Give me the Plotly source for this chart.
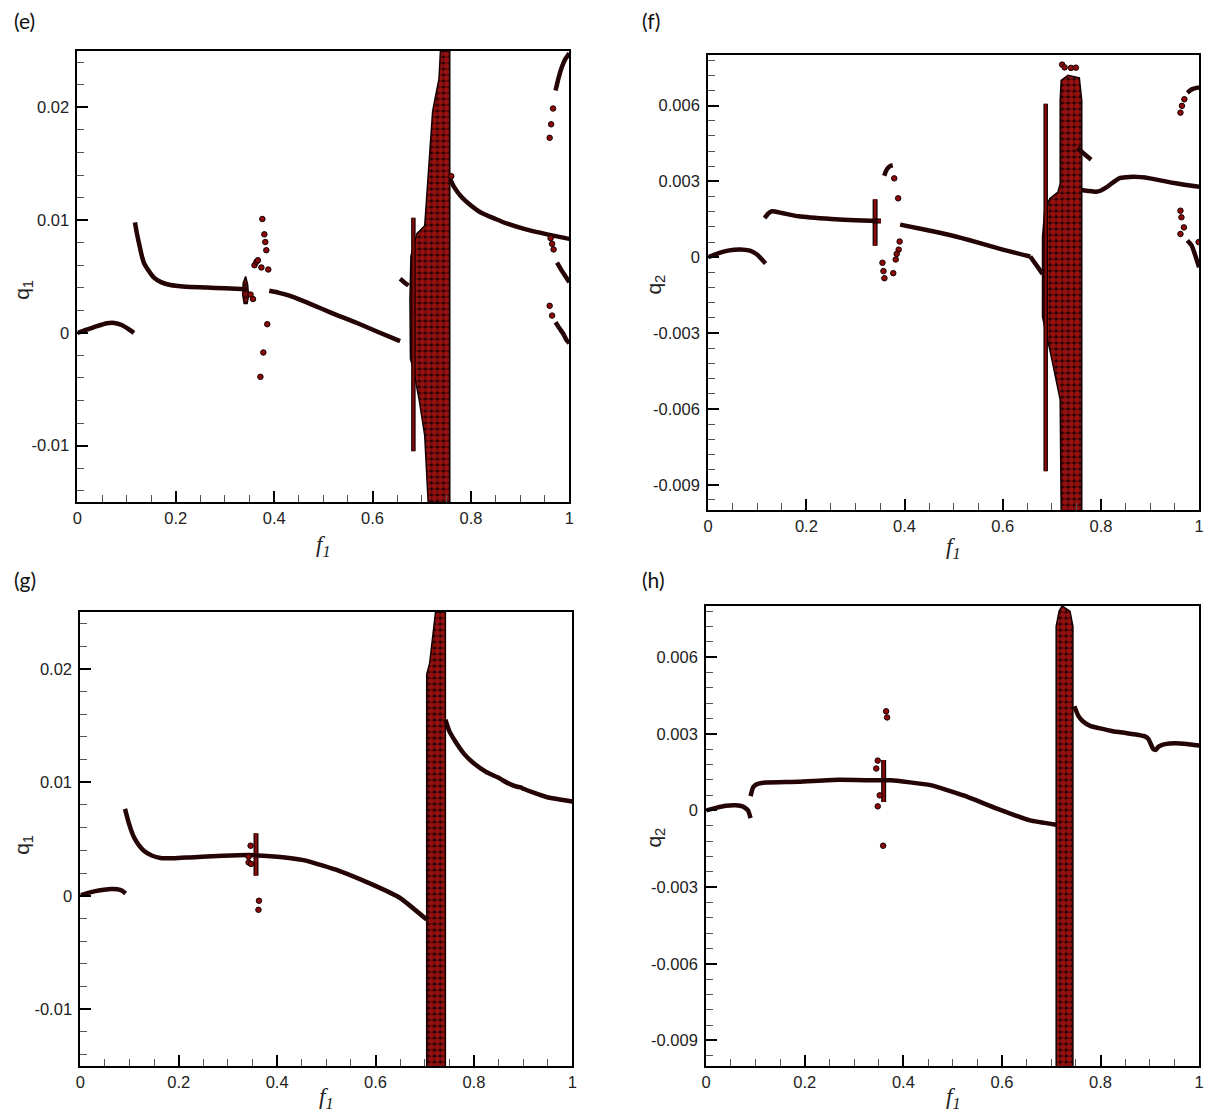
import plotly.graph_objects as go

# ---------------- tick labels ----------------
X_TICKS = [0, 0.2, 0.4, 0.6, 0.8, 1.0]
X_TICK_TEXT = ["0", "0.2", "0.4", "0.6", "0.8", "1"]
Q1_TICKS = [-0.01, 0.0, 0.01, 0.02]
Q1_TICK_TEXT = ["-0.01", "0", "0.01", "0.02"]
Q2_TICKS = [-0.009, -0.006, -0.003, 0.0, 0.003, 0.006]
Q2_TICK_TEXT = ["-0.009", "-0.006", "-0.003", "0", "0.003", "0.006"]

# ---------------- panel (e): q1 ----------------
E_A_X = [0, 0.02, 0.04, 0.06, 0.075, 0.09, 0.105, 0.115]
E_A_Y = [0, 0.0003, 0.0006, 0.00085, 0.00088, 0.0007, 0.0003, 0.0]
E_B_X = [0.117, 0.121, 0.125, 0.13, 0.135, 0.145, 0.155, 0.17, 0.189, 0.22, 0.263, 0.30, 0.345]
E_B_Y = [0.0098, 0.0088, 0.0080, 0.0070, 0.00624, 0.0055, 0.00492, 0.0045, 0.00424, 0.0041, 0.00403, 0.00395, 0.00388]
E_C_X = [0.39, 0.41, 0.431, 0.465, 0.498, 0.53, 0.565, 0.61, 0.656]
E_C_Y = [0.00373, 0.00355, 0.0033, 0.00272, 0.00212, 0.00153, 0.00094, 0.0001, -0.00073]
E_D_X = [0.656, 0.664, 0.673]
E_D_Y = [0.0048, 0.0045, 0.0042]
E_E_X = [0.757, 0.765, 0.78, 0.80, 0.821, 0.85, 0.874, 0.91, 0.955, 0.995, 1.0]
E_E_Y = [0.0137, 0.0130, 0.0121, 0.0113, 0.01065, 0.0101, 0.00968, 0.0092, 0.00874, 0.00838, 0.00835]
E_F_X = [0.972, 0.978, 0.985, 0.992, 1.0]
E_F_Y = [0.0215, 0.0226, 0.0236, 0.0243, 0.0248]
E_G_X = [0.975, 0.985, 0.995, 1.0]
E_G_Y = [0.00624, 0.0055, 0.00483, 0.0045]
E_H_X = [0.972, 0.98, 0.988, 0.995, 1.0]
E_H_Y = [0.00094, 0.0004, -0.0001, -0.00068, -0.0009]
E_PTS_X = [0.376, 0.380, 0.382, 0.384, 0.360, 0.364, 0.367, 0.374, 0.388, 0.386, 0.378, 0.372,
           0.357, 0.352, 0.967, 0.963, 0.960, 0.962, 0.965, 0.968, 0.960, 0.965, 0.760]
E_PTS_Y = [0.0101, 0.00874, 0.00806, 0.00733, 0.0060, 0.0063, 0.00644, 0.0058, 0.00562, 0.00077,
           -0.00174, -0.0039, 0.0030, 0.0034, 0.0199, 0.0185, 0.0173, 0.0084, 0.0079, 0.0074,
           0.0024, 0.00153, 0.0139]
E_CL_X = [0.342, 0.346, 0.348, 0.345, 0.339, 0.336, 0.337, 0.342]
E_CL_Y = [0.0050, 0.0043, 0.0033, 0.0026, 0.0026, 0.0034, 0.0044, 0.0050]
E_LINE_X = [0.683, 0.683]
E_LINE_Y = [-0.0105, 0.0102]
E_BAND_X = [0.713, 0.706, 0.695, 0.683, 0.677, 0.676, 0.678, 0.690, 0.706, 0.713, 0.716, 0.719,
            0.722, 0.728, 0.735, 0.738, 0.757, 0.757]
E_BAND_Y = [-0.0150, -0.0091, -0.0060, -0.0032, -0.0023, 0.0030, 0.0068, 0.0088, 0.0095, 0.0142,
            0.0160, 0.0180, 0.0196, 0.0210, 0.0225, 0.0250, 0.0250, -0.0150]

# ---------------- panel (f): q2 ----------------
F_A_X = [0, 0.02, 0.04, 0.065, 0.085, 0.1, 0.117]
F_A_Y = [0, 0.00015, 0.00026, 0.00031, 0.00026, 0.0001, -0.00025]
F_B_X = [0.115, 0.122, 0.13, 0.15, 0.184, 0.251, 0.30, 0.345]
F_B_Y = [0.00155, 0.00172, 0.00182, 0.00175, 0.00162, 0.00151, 0.00146, 0.00143]
F_C_X = [0.391, 0.44, 0.494, 0.55, 0.60, 0.656]
F_C_Y = [0.00129, 0.0011, 0.00087, 0.00058, 0.0003, 0.00003]
F_K_X = [0.656, 0.668, 0.681]
F_K_Y = [0.00003, -0.0003, -0.00066]
F_D_X = [0.761, 0.775, 0.79, 0.80, 0.811, 0.825, 0.838, 0.866, 0.90, 0.941, 0.97, 1.0]
F_D_Y = [0.00266, 0.00262, 0.00259, 0.00264, 0.00276, 0.00296, 0.00313, 0.00318, 0.00312,
         0.00296, 0.00287, 0.00279]
F_E_X = [0.752, 0.765, 0.78]
F_E_Y = [0.00432, 0.0041, 0.00386]
F_F_X = [0.976, 0.985, 0.997, 1.0]
F_F_Y = [0.00651, 0.00664, 0.00671, 0.00672]
F_G_X = [0.3586, 0.362, 0.367, 0.372, 0.376]
F_G_Y = [0.00322, 0.0034, 0.00355, 0.00362, 0.00364]
F_H_X = [0.976, 0.985, 0.99, 0.995, 1.0]
F_H_Y = [0.00066, 0.00046, 0.0002, -0.0001, -0.0004]
F_PTS_X = [0.379, 0.387, 0.390, 0.388, 0.384, 0.382, 0.377, 0.355, 0.357, 0.359,
           0.970, 0.965, 0.962, 0.962, 0.964, 0.969, 0.962, 0.999]
F_PTS_Y = [0.00312, 0.00233, 0.00062, 0.0003, 0.00013, -0.00009, -0.00063, -0.00022, -0.00055,
           -0.00083, 0.00625, 0.00599, 0.00572, 0.00184, 0.00158, 0.00118, 0.00092, 0.0006]
F_CL_X = [0.340, 0.340]
F_CL_Y = [0.00045, 0.00229]
F_CLH_X = [0.335, 0.352]
F_CLH_Y = [0.00143, 0.00143]
F_LINE_X = [0.6875, 0.6875]
F_LINE_Y = [-0.00847, 0.00607]
F_BAND_X = [0.719, 0.717, 0.699, 0.681, 0.681, 0.6855, 0.696, 0.7125, 0.717, 0.717, 0.719,
            0.733, 0.756, 0.761, 0.761]
F_BAND_Y = [-0.0100, -0.00564, -0.00394, -0.00236, 0.0008, 0.00186, 0.00232, 0.00258, 0.00291,
            0.0062, 0.0070, 0.0072, 0.0071, 0.0062, -0.0100]
F_TOP_X = [0.721, 0.726, 0.739, 0.749]
F_TOP_Y = [0.00762, 0.00751, 0.00749, 0.0075]

# ---------------- panel (g): q1 ----------------
G_A_X = [0, 0.02, 0.04, 0.062, 0.075, 0.085, 0.092]
G_A_Y = [0.00005, 0.0003, 0.00048, 0.00059, 0.00057, 0.00045, 0.0002]
G_B_X = [0.0907, 0.094, 0.097, 0.103, 0.109, 0.118, 0.129, 0.145, 0.163, 0.19, 0.223, 0.29,
         0.344, 0.371, 0.42, 0.458, 0.526, 0.593, 0.65, 0.704]
G_B_Y = [0.00765, 0.0071, 0.00662, 0.0058, 0.00515, 0.0045, 0.00397, 0.00355, 0.00333, 0.0033,
         0.00338, 0.00353, 0.00359, 0.00353, 0.00335, 0.0031, 0.0022, 0.0010, -0.0002, -0.0021]
G_D_X = [0.742, 0.75, 0.761, 0.78, 0.801, 0.825, 0.848, 0.87, 0.888, 0.895, 0.902, 0.92, 0.949,
         0.975, 1.0]
G_D_Y = [0.0155, 0.0145, 0.01368, 0.0125, 0.01162, 0.0109, 0.01044, 0.0099, 0.0096, 0.00955,
         0.0094, 0.0091, 0.00868, 0.00848, 0.0083]
G_PTS_X = [0.346, 0.342, 0.342, 0.347, 0.363, 0.362]
G_PTS_Y = [0.00441, 0.00344, 0.00294, 0.0028, -0.00044, -0.00124]
G_CL_X = [0.357, 0.357]
G_CL_Y = [0.00177, 0.0055]
G_BAND_X = [0.704, 0.704, 0.710, 0.716, 0.722, 0.742, 0.742]
G_BAND_Y = [-0.015, 0.0195, 0.0205, 0.0225, 0.025, 0.025, -0.015]

# ---------------- panel (h): q2 ----------------
H_A_X = [0, 0.02, 0.04, 0.06, 0.075, 0.085, 0.09]
H_A_Y = [0, 0.0001, 0.00018, 0.0002, 0.00015, 0.0, -0.0003]
H_B_X = [0.09, 0.095, 0.103, 0.12, 0.187, 0.268, 0.341, 0.36, 0.375, 0.455, 0.522, 0.59,
         0.657, 0.71]
H_B_Y = [0.00056, 0.0009, 0.00103, 0.00109, 0.00112, 0.0012, 0.00118, 0.00118, 0.00118,
         0.00099, 0.00059, 0.00007, -0.00039, -0.00056]
H_D_X = [0.747, 0.755, 0.764, 0.78, 0.797, 0.825, 0.851, 0.875, 0.891, 0.897, 0.902, 0.907,
         0.912, 0.918, 0.925, 0.94, 0.952, 0.975, 1.0]
H_D_Y = [0.00408, 0.0037, 0.00349, 0.0033, 0.00322, 0.0031, 0.00303, 0.00296, 0.00289, 0.0028,
         0.0026, 0.0024, 0.00237, 0.0025, 0.00257, 0.00262, 0.00263, 0.0026, 0.00254]
H_PTS_X = [0.365, 0.367, 0.348, 0.345, 0.352, 0.348, 0.359]
H_PTS_Y = [0.00388, 0.00364, 0.00195, 0.00164, 0.00059, 0.00016, -0.00138]
H_CL_X = [0.36, 0.36]
H_CL_Y = [0.00033, 0.00197]
H_BAND_X = [0.71, 0.71, 0.716, 0.722, 0.738, 0.744, 0.744]
H_BAND_Y = [-0.01, 0.0072, 0.0078, 0.008, 0.0078, 0.0072, -0.01]

# ---------------- styles ----------------
CURVE_COLOR = "#240404"
DOT_FILL = "#8b0a0a"
DOT_EDGE = "#140000"

fig = go.Figure()


def curve(x, y, ax):
    fig.add_trace(go.Scatter(x=x, y=y, mode="lines", xaxis="x" + ax, yaxis="y" + ax,
                             line=dict(color=CURVE_COLOR, width=4.5, shape="spline", smoothing=0.4),
                             hoverinfo="skip", showlegend=False))


def dots(x, y, ax):
    fig.add_trace(go.Scatter(x=x, y=y, mode="markers", xaxis="x" + ax, yaxis="y" + ax,
                             marker=dict(size=5.5, color=DOT_FILL, line=dict(color=DOT_EDGE, width=1)),
                             hoverinfo="skip", showlegend=False))


def column(x, y, ax, w=5):
    fig.add_trace(go.Scatter(x=x, y=y, mode="lines", xaxis="x" + ax, yaxis="y" + ax,
                             line=dict(color=DOT_EDGE, width=w), hoverinfo="skip", showlegend=False))
    fig.add_trace(go.Scatter(x=x, y=y, mode="lines", xaxis="x" + ax, yaxis="y" + ax,
                             line=dict(color=DOT_FILL, width=w - 2.5), hoverinfo="skip",
                             showlegend=False))


def band(x, y, ax):
    fig.add_trace(go.Scatter(x=x, y=y, mode="lines", xaxis="x" + ax, yaxis="y" + ax,
                             fill="toself", fillcolor=DOT_FILL,
                             fillpattern=dict(shape=".", fgcolor="#961010", bgcolor="#260303",
                                              size=6, solidity=0.7, fillmode="replace"),
                             line=dict(color=DOT_EDGE, width=1.5), hoverinfo="skip",
                             showlegend=False))


# (e)
band(E_BAND_X, E_BAND_Y, "")
column(E_LINE_X, E_LINE_Y, "", 4.5)
band(E_CL_X, E_CL_Y, "")
for cx, cy in [(E_A_X, E_A_Y), (E_B_X, E_B_Y), (E_C_X, E_C_Y), (E_D_X, E_D_Y), (E_E_X, E_E_Y),
               (E_F_X, E_F_Y), (E_G_X, E_G_Y), (E_H_X, E_H_Y)]:
    curve(cx, cy, "")
dots(E_PTS_X, E_PTS_Y, "")

# (f)
band(F_BAND_X, F_BAND_Y, "2")
column(F_LINE_X, F_LINE_Y, "2", 4.5)
column(F_CL_X, F_CL_Y, "2", 5)
column(F_CLH_X, F_CLH_Y, "2", 5)
for cx, cy in [(F_A_X, F_A_Y), (F_B_X, F_B_Y), (F_C_X, F_C_Y), (F_K_X, F_K_Y), (F_D_X, F_D_Y),
               (F_E_X, F_E_Y), (F_F_X, F_F_Y), (F_G_X, F_G_Y), (F_H_X, F_H_Y)]:
    curve(cx, cy, "2")
dots(F_PTS_X, F_PTS_Y, "2")
dots(F_TOP_X, F_TOP_Y, "2")

# (g)
band(G_BAND_X, G_BAND_Y, "3")
column(G_CL_X, G_CL_Y, "3", 5)
for cx, cy in [(G_A_X, G_A_Y), (G_B_X, G_B_Y), (G_D_X, G_D_Y)]:
    curve(cx, cy, "3")
dots(G_PTS_X, G_PTS_Y, "3")

# (h)
band(H_BAND_X, H_BAND_Y, "4")
column(H_CL_X, H_CL_Y, "4", 5)
for cx, cy in [(H_A_X, H_A_Y), (H_B_X, H_B_Y), (H_D_X, H_D_Y)]:
    curve(cx, cy, "4")
dots(H_PTS_X, H_PTS_Y, "4")

W, H = 1218, 1115
TICKFONT = dict(family="Liberation Sans, Arial, sans-serif", size=16.5, color="#222222")


def xaxis(px0, px1, anchor):
    return dict(domain=[px0 / W, px1 / W], anchor=anchor, range=[0, 1],
                tickmode="array", tickvals=X_TICKS, ticktext=X_TICK_TEXT,
                ticks="inside", ticklen=11, tickwidth=2, tickcolor="black",
                showline=True, linecolor="black", linewidth=2, mirror=True,
                showgrid=False, zeroline=False, tickfont=TICKFONT,
                minor=dict(tickmode="linear", tick0=0, dtick=0.05, ticks="inside", ticklen=7,
                           tickwidth=1, tickcolor="#555555", showgrid=False))


def yaxis(py_top, py_bot, anchor, rng, tv, tt, minor_step):
    return dict(domain=[1 - py_bot / H, 1 - py_top / H], anchor=anchor, range=rng,
                tickmode="array", tickvals=tv, ticktext=tt,
                ticks="inside", ticklen=11, tickwidth=2, tickcolor="black",
                showline=True, linecolor="black", linewidth=2, mirror=True,
                showgrid=False, zeroline=False, tickfont=TICKFONT, ticklabelstandoff=3,
                minor=dict(tickmode="linear", tick0=0, dtick=minor_step, ticks="inside", ticklen=7,
                           tickwidth=1, tickcolor="#555555", showgrid=False))


fig.update_layout(
    width=W, height=H, margin=dict(l=0, r=0, t=0, b=0),
    paper_bgcolor="white", plot_bgcolor="white", showlegend=False,
    xaxis=xaxis(73, 569, "y"),
    yaxis=yaxis(51, 502, "x", [-0.015, 0.025], Q1_TICKS, Q1_TICK_TEXT, 0.002),
    xaxis2=xaxis(709, 1204, "y2"),
    yaxis2=yaxis(55, 510, "x2", [-0.01, 0.008], Q2_TICKS, Q2_TICK_TEXT, 0.0006),
    xaxis3=xaxis(76, 572, "y3"),
    yaxis3=yaxis(612, 1066, "x3", [-0.015, 0.025], Q1_TICKS, Q1_TICK_TEXT, 0.002),
    xaxis4=xaxis(707, 1204, "y4"),
    yaxis4=yaxis(606, 1066, "x4", [-0.01, 0.008], Q2_TICKS, Q2_TICK_TEXT, 0.0006),
)

ann = []
LABELFONT = dict(family="Lato, Open Sans, sans-serif", size=21, color="#111111")
for txt, px, py in [("(e)", 7, 20), ("(f)", 640, 20), ("(g)", 7, 580), ("(h)", 640, 580)]:
    ann.append(dict(text=txt, x=px / W, y=1 - py / H, xref="paper", yref="paper",
                    xanchor="left", yanchor="middle", showarrow=False, font=LABELFONT))
QFONT = dict(family="Liberation Sans, Arial, sans-serif", size=21, color="#222222")
for txt, px, py in [("q<sub>1</sub>", 18, 290), ("q<sub>2</sub>", 655, 285),
                    ("q<sub>1</sub>", 18, 845), ("q<sub>2</sub>", 655, 838)]:
    ann.append(dict(text=txt, x=px / W, y=1 - py / H, xref="paper", yref="paper",
                    xanchor="center", yanchor="middle", textangle=-90, showarrow=False, font=QFONT))
FFONT = dict(family="Liberation Serif, Times New Roman, serif", size=23, color="#222222")
for px, py in [(321, 546), (956, 548), (324, 1098), (956, 1098)]:
    ann.append(dict(text="<i>f<sub>1</sub></i>", x=px / W, y=1 - py / H, xref="paper",
                    yref="paper", xanchor="center", yanchor="middle", showarrow=False, font=FFONT))
fig.update_layout(annotations=ann)

fig.write_html("out.html", config={"displayModeBar": False},
               post_script="document.body.style.margin='0px';document.body.style.overflow='hidden';")
